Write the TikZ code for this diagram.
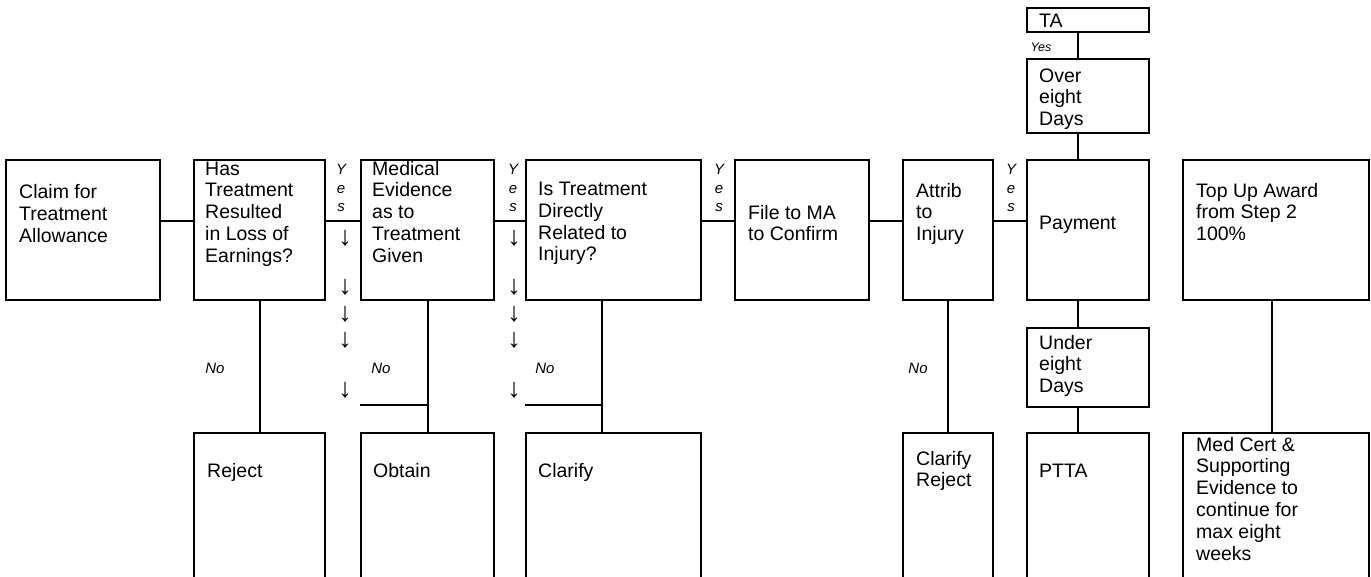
\documentclass[tikz,border=0pt]{standalone}
\usepackage{fontspec}
\setmainfont{Liberation Sans}
\usetikzlibrary{positioning}

\begin{document}
\begin{tikzpicture}[x=1pt, y=-1pt,
    box/.style={draw, line width=2pt, anchor=north west, inner sep=0pt},
    txt/.style={anchor=north west, align=left, inner sep=0pt, font=\fontsize{19.5}{21.8}\selectfont},
    yesv/.style={anchor=north, align=center, inner sep=0pt, font=\fontsize{15}{18.5}\selectfont\itshape},
    nolbl/.style={inner sep=0pt, font=\fontsize{15}{18}\selectfont\itshape},
    arr/.style={inner sep=0pt, font=\fontsize{27}{30}\selectfont},
    link/.style={line width=2pt}]
    \useasboundingbox (0,0) rectangle (1371,577);

    % Draw the main row of boxes
    \node[box, minimum width=154, minimum height=140] (claim)   at (5,159) {};
    \node[box, minimum width=131, minimum height=140] (loss)    at (193,159) {};
    \node[box, minimum width=133, minimum height=140] (medical) at (360,159) {};
    \node[box, minimum width=175, minimum height=140] (related) at (525,159) {};
    \node[box, minimum width=134, minimum height=140] (fileMA)  at (734,159) {};
    \node[box, minimum width=90,  minimum height=140] (attrib)  at (902,159) {};
    \node[box, minimum width=122, minimum height=140] (payment) at (1026,159) {};
    \node[box, minimum width=186, minimum height=140] (topup)   at (1182,159) {};

    % Boxes above and below the payment
    \node[box, minimum width=122, minimum height=24]   (ta)    at (1026,7.5) {};
    \node[box, minimum width=122, minimum height=74]   (over)  at (1026,58.5) {};
    \node[box, minimum width=122, minimum height=78.5] (under) at (1026,327.5) {};

    % Bottom row of boxes (cut off by the page)
    \node[box, minimum width=131, minimum height=180] (reject)   at (193,431.7) {};
    \node[box, minimum width=133, minimum height=180] (obtain)   at (360,431.7) {};
    \node[box, minimum width=175, minimum height=180] (clarify)  at (525,431.7) {};
    \node[box, minimum width=90,  minimum height=180] (clarrej)  at (902,431.7) {};
    \node[box, minimum width=122, minimum height=180] (ptta)     at (1026,431.7) {};
    \node[box, minimum width=186, minimum height=180] (medcert)  at (1182,431.7) {};

    % Texts of the boxes
    \node[txt] (claimT)   at (19,183)    {\strut Claim for\\Treatment\\Allowance};
    \node[txt] (lossT)    at (205,159.7) {\strut Has\\Treatment\\Resulted\\in Loss of\\Earnings?};
    \node[txt] (medicalT) at (372,159.7) {\strut Medical\\Evidence\\as to\\Treatment\\Given};
    \node[txt] (relatedT) at (538,180)   {\strut Is Treatment\\Directly\\Related to\\Injury?};
    \node[txt] (fileMAT)  at (748,203.7) {\strut File to MA\\to Confirm};
    \node[txt] (attribT)  at (916,181.7) {\strut Attrib\\to\\Injury};
    \node[txt] (paymentT) at (1039,213.7) {\strut Payment};
    \node[txt] (topupT)   at (1196,181.7) {\strut Top Up Award\\from Step 2\\100\%};
    \node[txt] (taT)      at (1039,11.7)  {\strut TA};
    \node[txt] (overT)    at (1039,66.7)  {\strut Over\\eight\\Days};
    \node[txt] (underT)   at (1039,333.7) {\strut Under\\eight\\Days};
    \node[txt] (rejectT)  at (207,461.7)  {\strut Reject};
    \node[txt] (obtainT)  at (373,461.7)  {\strut Obtain};
    \node[txt] (clarifyT) at (538,461.7)  {\strut Clarify};
    \node[txt] (clarrejT) at (916,449.7)  {\strut Clarify\\Reject};
    \node[txt] (pttaT)    at (1039,461.7) {\strut PTTA};
    \node[txt] (medcertT) at (1196,435.7) {\strut Med Cert \&\\Supporting\\Evidence to\\continue for\\max eight\\weeks};

    % Rows and columns of the connectors
    \coordinate (row)   at (0,221);
    \coordinate (join)  at (0,405);
    \coordinate (colR)  at (602,0);
    \coordinate (colP)  at (1078,0);
    \coordinate (colT)  at (1272,0);

    % Connect the main row
    \draw[link] (claim.east |- row)   -- (loss.west |- row);
    \draw[link] (loss.east |- row)    -- (medical.west |- row);
    \draw[link] (medical.east |- row) -- (related.west |- row);
    \draw[link] (related.east |- row) -- (fileMA.west |- row);
    \draw[link] (fileMA.east |- row)  -- (attrib.west |- row);
    \draw[link] (attrib.east |- row)  -- (payment.west |- row);

    % Connect down to the bottom row
    \draw[link] (loss.south)    -- (reject.north);
    \draw[link] (medical.south) -- (obtain.north);
    \draw[link] (related.south -| colR) -- (clarify.north -| colR);
    \draw[link] (attrib.south)  -- (clarrej.north);
    \draw[link] (topup.south -| colT)   -- (medcert.north -| colT);
    \draw[link] (obtain.north west |- join)  -- (medical.south |- join);
    \draw[link] (clarify.north west |- join) -- (colR |- join);

    % Payment column
    \draw[link] (ta.south -| colP)      -- (over.north -| colP);
    \draw[link] (over.south -| colP)    -- (payment.north -| colP);
    \draw[link] (payment.south -| colP) -- (under.north -| colP);
    \draw[link] (under.south -| colP)   -- (ptta.north -| colP);

    % Yes and No labels
    \foreach \x/\n in {341/a, 513/b, 719/c, 1011/d}
        \node[yesv] (yes\n) at (\x,161.5) {\strut Y\\e\\s};
    \node[inner sep=0pt, font=\fontsize{12.5}{14}\selectfont\itshape] (yesTA) at (1041,47) {Yes};
    \foreach \x/\n in {215/a, 381/b, 545/c, 918/d}
        \node[nolbl] (no\n) at (\x,368) {No};

    % Down arrows beside the Yes links
    \foreach \y in {238, 287, 314, 340, 390} {
        \node[arr] (dnA\y) at (345,\y) {↓};
        \node[arr] (dnB\y) at (514,\y) {↓};
    }

\end{tikzpicture}
\end{document}
